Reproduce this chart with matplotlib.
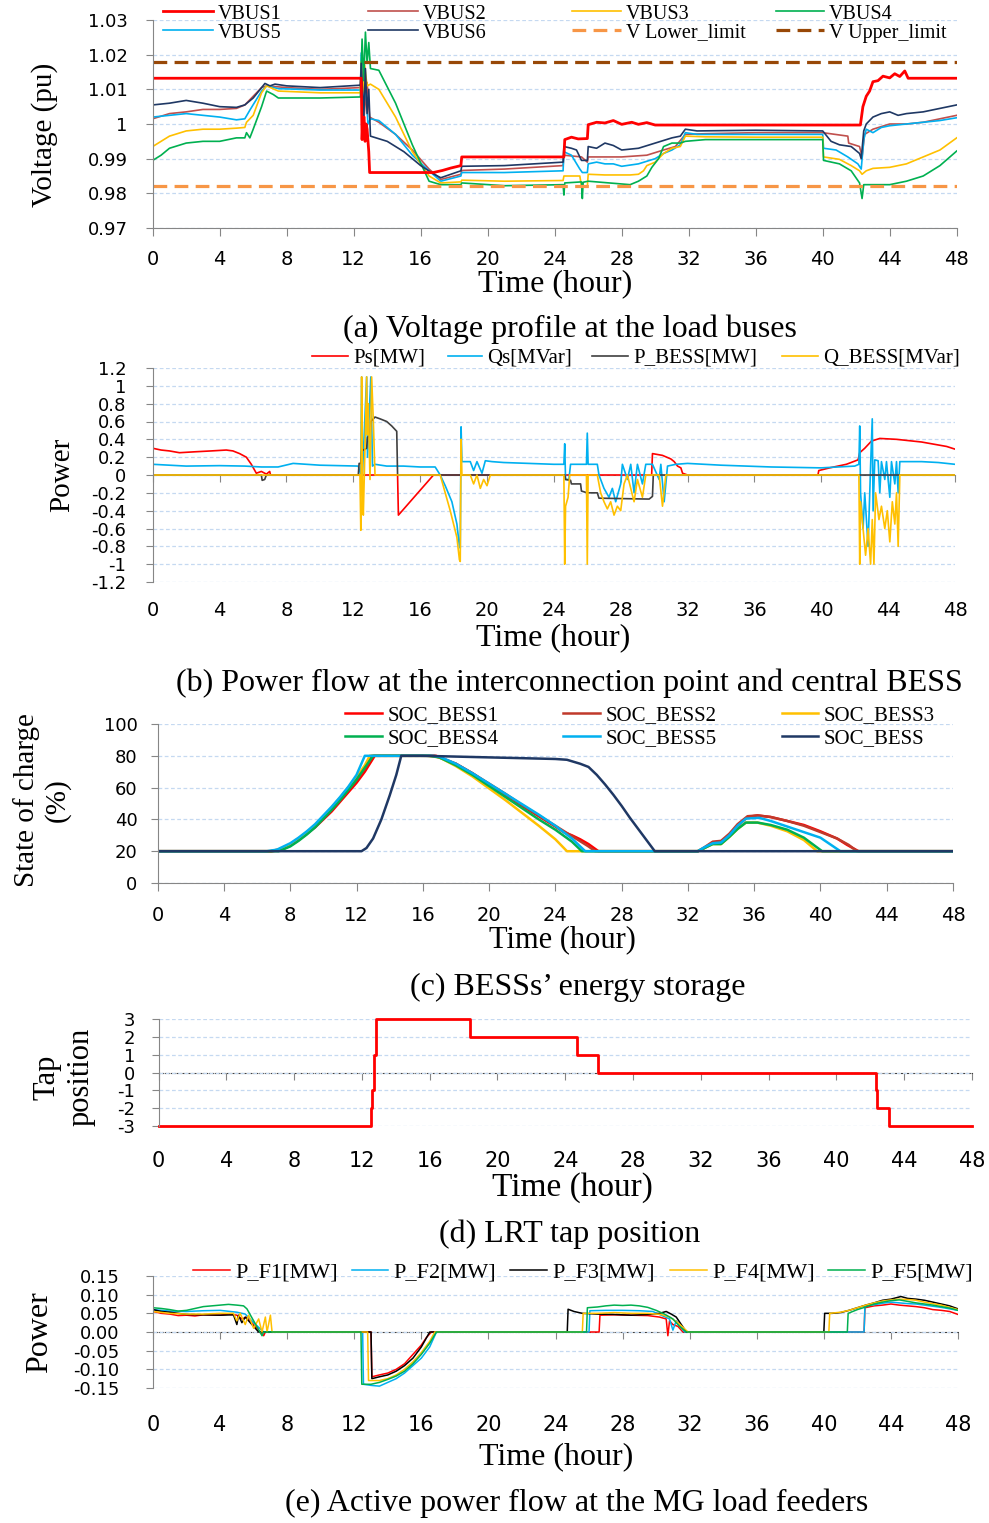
import numpy as np
import matplotlib
matplotlib.use("Agg")
import matplotlib.pyplot as plt
from matplotlib.ticker import FuncFormatter

# ---------------- data: (hour, value) pairs ----------------
# (a) voltage profile at the load buses [pu]
VBUS1 = [(0, 1.0132), (12.45, 1.0132), (12.5, 0.9955), (12.55, 1.0015), (12.62, 1.002), (12.68, 0.995),
         (12.74, 1.0), (12.8, 0.9985), (12.9, 0.992), (12.95, 0.986), (16.75, 0.986), (17.3, 0.9866),
         (17.8, 0.9873), (18.4, 0.988), (18.45, 0.9905), (24.55, 0.9905), (24.6, 0.9955), (25.0, 0.9962),
         (25.4, 0.9957), (25.95, 0.9958), (26.0, 0.9998), (26.5, 1.0005), (27.0, 1.0003), (27.5, 1.001),
         (28.0, 0.9999), (28.6, 1.0005), (29.0, 0.9999), (29.5, 1.0004), (30.0, 0.9997), (42.25, 0.9997),
         (42.4, 1.005), (42.6, 1.008), (42.8, 1.0095), (43.0, 1.0122), (43.3, 1.0125), (43.6, 1.0138),
         (44.0, 1.0133), (44.3, 1.0145), (44.6, 1.0137), (44.9, 1.0153), (45.1, 1.0132), (48, 1.0132)]
VBUS2 = [(0, 1.0015), (1, 1.003), (2, 1.0035), (3, 1.0042), (4, 1.0042), (5, 1.0045), (5.5, 1.0055),
         (6.5, 1.0105), (6.8, 1.011), (8, 1.0105), (10, 1.01), (12.4, 1.0105), (12.45, 1.0165), (12.6, 1.001),
         (12.8, 1.012), (12.95, 1.002), (13.5, 1.0005), (14.5, 0.997), (15.5, 0.9925), (16.5, 0.987),
         (17.2, 0.984), (18.4, 0.9855), (18.45, 0.9866), (21, 0.987), (24.5, 0.988), (24.55, 0.991),
         (25.6, 0.9905), (25.95, 0.989), (26.0, 0.9905), (28, 0.9905), (29.5, 0.991), (30.5, 0.9925),
         (31.2, 0.9935), (31.8, 0.997), (33, 0.9972), (36, 0.9975), (40, 0.9975), (41.5, 0.9965),
         (41.55, 0.9945), (42.2, 0.9935), (42.35, 0.9905), (42.5, 0.997), (43, 0.9985), (44, 1.0),
         (45, 1.0), (46, 1.0005), (47, 1.0015), (48, 1.0025)]
VBUS3 = [(0, 0.9935), (0.5, 0.995), (1, 0.9965), (2, 0.998), (3, 0.9985), (4, 0.9985), (5, 0.9988),
         (5.5, 0.999), (5.6, 1.0005), (6, 1.0025), (6.5, 1.009), (6.8, 1.011), (7.5, 1.0095), (10, 1.009),
         (12.4, 1.009), (12.45, 1.018), (12.55, 1.009), (12.65, 1.017), (12.8, 1.011), (13.0, 1.0115),
         (13.5, 1.01), (14.5, 1.002), (15.5, 0.992), (16.5, 0.985), (17.2, 0.983), (18.4, 0.9833),
         (18.45, 0.9838), (21, 0.9835), (24.5, 0.9837), (24.55, 0.985), (25.5, 0.985), (25.6, 0.982),
         (25.95, 0.982), (26.0, 0.9855), (27, 0.9853), (28.5, 0.9853), (29, 0.9855), (29.3, 0.9865),
         (29.5, 0.988), (30, 0.989), (30.5, 0.9915), (31, 0.993), (31.5, 0.9935), (31.8, 0.9965),
         (33, 0.9963), (36, 0.9962), (40, 0.9962), (40.05, 0.9905), (41, 0.9898), (41.7, 0.988),
         (42.2, 0.9865), (42.35, 0.9855), (42.6, 0.9865), (43, 0.9872), (44, 0.9875), (45, 0.9885),
         (46, 0.9905), (47, 0.9925), (48, 0.996)]
VBUS4 = [(0, 0.9895), (0.5, 0.991), (1, 0.993), (2, 0.9945), (3, 0.995), (4, 0.995), (5, 0.996),
         (5.5, 0.996), (5.6, 0.9975), (5.8, 0.996), (6, 0.9985), (6.5, 1.005), (6.8, 1.0095), (7.2, 1.0085),
         (7.5, 1.0075), (10, 1.0075), (12.4, 1.0078), (12.5, 1.0245), (12.6, 1.0125), (12.7, 1.0265),
         (12.8, 1.0175), (12.9, 1.0235), (13.0, 1.016), (13.5, 1.0155), (14.5, 1.006), (15.5, 0.994),
         (16.5, 0.9835), (17.2, 0.9825), (18.4, 0.9825), (18.45, 0.983), (21, 0.9822), (24.5, 0.9825),
         (24.55, 0.9795), (24.6, 0.983), (25.6, 0.9833), (25.65, 0.9785), (25.7, 0.9832), (26, 0.9835),
         (28.5, 0.9825), (29, 0.9835), (29.5, 0.985), (29.8, 0.9875), (30.2, 0.99), (30.5, 0.9935),
         (31, 0.9945), (31.5, 0.9945), (31.8, 0.995), (33, 0.9955), (36, 0.9955), (40, 0.9955),
         (40.05, 0.9895), (41, 0.9885), (41.7, 0.9865), (42.2, 0.983), (42.35, 0.9785), (42.45, 0.9825),
         (43, 0.9825), (44, 0.9825), (45, 0.9835), (46, 0.985), (47, 0.988), (48, 0.9922)]
VBUS5 = [(0, 1.002), (1, 1.0025), (2, 1.003), (3, 1.0025), (4, 1.002), (5, 1.0012), (5.5, 1.0015),
         (5.8, 1.004), (6.5, 1.0095), (6.8, 1.011), (7.5, 1.0102), (10, 1.0098), (12.4, 1.0098),
         (12.45, 1.0205), (12.55, 1.0), (12.7, 1.013), (12.85, 1.0), (13.0, 1.0015), (13.5, 1.001),
         (14.5, 0.997), (15.5, 0.991), (16.5, 0.9865), (17.2, 0.9835), (18.4, 0.985), (18.45, 0.986),
         (21, 0.986), (24.5, 0.9865), (24.55, 0.992), (25.0, 0.991), (25.5, 0.987), (25.65, 0.986),
         (25.95, 0.986), (26.0, 0.9885), (26.5, 0.989), (27, 0.9885), (27.5, 0.9885), (28, 0.9878),
         (29, 0.9885), (30, 0.99), (30.5, 0.9915), (31, 0.9925), (31.5, 0.994), (31.8, 0.9975),
         (32.5, 0.997), (36, 0.997), (40, 0.997), (40.05, 0.993), (40.8, 0.9925), (41.5, 0.9905),
         (42.1, 0.9885), (42.3, 0.987), (42.45, 0.9955), (42.6, 0.9985), (43, 0.9975), (43.5, 0.999),
         (44, 0.9995), (45, 1.0), (46, 1.0005), (47, 1.001), (48, 1.0018)]
VBUS6 = [(0, 1.0055), (1, 1.006), (2, 1.0068), (3, 1.006), (4, 1.005), (5, 1.0048), (5.5, 1.0055),
         (6.0, 1.0075), (6.5, 1.0105), (6.7, 1.0117), (7.0, 1.011), (7.3, 1.0115), (8, 1.011), (10, 1.0105),
         (12.4, 1.0112), (12.45, 1.0175), (12.6, 1.002), (12.7, 1.016), (12.8, 1.003), (12.9, 1.01),
         (13.0, 0.9965), (14, 0.995), (15, 0.992), (16, 0.988), (16.8, 0.9855), (17.2, 0.9845),
         (18.4, 0.9865), (18.45, 0.9878), (21, 0.988), (24.5, 0.989), (24.55, 0.9935), (25.0, 0.993),
         (25.3, 0.9925), (25.6, 0.9895), (25.95, 0.9895), (26.0, 0.9935), (26.5, 0.993), (27, 0.9945),
         (27.5, 0.9938), (28, 0.9925), (29, 0.993), (30, 0.9945), (31, 0.996), (31.5, 0.9965),
         (31.8, 0.9985), (32.5, 0.998), (36, 0.9982), (40, 0.998), (40.5, 0.995), (41, 0.994),
         (41.7, 0.9935), (42.2, 0.9915), (42.3, 0.99), (42.45, 0.998), (42.6, 1.0), (43, 1.002),
         (43.5, 1.003), (44, 1.0035), (44.5, 1.0025), (45, 1.003), (46, 1.0035), (47, 1.0045), (48, 1.0055)]
V_LOWER = 0.982
V_UPPER = 1.018

# (b) power flow at interconnection point and central BESS
PS = [(0, 0.3), (0.5, 0.28), (1, 0.27), (1.6, 0.25), (2.5, 0.26), (3.5, 0.27), (4.4, 0.28), (4.8, 0.27),
      (5.2, 0.24), (5.6, 0.2), (5.9, 0.12), (6.2, 0.02), (6.5, 0.04), (6.8, 0.01), (7.0, 0.04), (7.05, 0.0),
      (14.65, 0.0), (14.7, -0.45), (16.8, 0.0), (29.85, 0.0), (29.9, 0.24), (30.5, 0.22), (31.0, 0.18),
      (31.2, 0.15), (31.4, 0.1), (31.6, 0.08), (31.7, 0.02), (32, 0.0), (39.8, 0.0), (39.85, 0.05),
      (40.5, 0.08), (41.5, 0.12), (42.2, 0.17), (42.3, 0.25), (42.6, 0.3), (43, 0.38), (43.5, 0.41),
      (44.5, 0.4), (46, 0.37), (47.5, 0.32), (48, 0.29)]
QS = [(0, 0.12), (1, 0.11), (2, 0.1), (4, 0.105), (5.5, 0.1), (6.5, 0.09), (7.5, 0.09), (8.4, 0.13),
      (10, 0.11), (12.3, 0.1), (12.45, 0.0), (12.5, 1.1), (12.55, 0.0), (12.8, 1.1), (12.85, 0.2),
      (13.05, 1.1), (13.15, 0.1), (13.3, 0.12), (14, 0.1), (15, 0.1), (16, 0.09), (16.9, 0.09),
      (17.2, 0.0), (17.5, -0.12), (17.9, -0.3), (18.2, -0.55), (18.35, -0.8), (18.4, -0.82), (18.45, 0.54),
      (18.5, 0.15), (19.0, 0.15), (19.2, 0.05), (19.4, 0.15), (19.7, 0.02), (19.9, 0.16), (20.3, 0.15),
      (21, 0.14), (24, 0.12), (24.6, 0.12), (24.65, 0.35), (24.7, -0.05), (24.9, -0.05), (25.0, 0.12),
      (25.95, 0.12), (26.0, 0.47), (26.05, 0.12), (26.6, 0.12), (26.7, 0.0), (27.0, -0.15), (27.3, -0.25),
      (27.5, -0.15), (27.7, -0.3), (28.0, -0.1), (28.1, 0.12), (28.4, -0.05), (28.6, 0.12), (28.8, -0.2),
      (29.0, 0.12), (29.3, -0.1), (29.5, 0.12), (29.9, 0.12), (30.3, -0.05), (30.4, 0.12), (30.6, -0.3),
      (30.8, 0.1), (31.3, 0.12), (32, 0.13), (34, 0.11), (37, 0.09), (40, 0.08), (42, 0.1), (42.25, 0.12),
      (42.3, 0.55), (42.35, -0.2), (42.5, -0.6), (42.6, -0.2), (42.8, -0.8), (42.95, 0.1), (43.05, 0.63),
      (43.1, -0.4), (43.2, 0.17), (43.4, 0.16), (43.5, -0.2), (43.6, 0.15), (43.8, -0.05), (43.9, 0.15),
      (44.1, -0.25), (44.2, 0.15), (44.4, -0.1), (44.5, 0.15), (44.6, -0.2), (44.7, 0.15), (46, 0.15),
      (47, 0.14), (48, 0.12)]
P_BESS = [(0, 0.0), (6.5, 0.0), (6.55, -0.06), (6.7, -0.05), (6.8, 0.0), (12.3, 0.0), (12.35, 0.13),
          (12.45, 0.13), (12.5, 0.27), (12.8, 0.3), (12.85, 0.42), (13.0, 0.45), (13.05, 0.6), (13.3, 0.65),
          (13.6, 0.63), (14.0, 0.6), (14.3, 0.55), (14.6, 0.49), (14.65, 0.0), (24.65, 0.0), (24.7, -0.05),
          (25.0, -0.06), (25.05, -0.1), (25.6, -0.1), (25.65, -0.18), (26.0, -0.2), (26.6, -0.2),
          (26.7, -0.26), (29.7, -0.27), (29.9, -0.24), (29.95, 0.0), (48, 0.0)]
Q_BESS = [(0, 0.0), (12.4, 0.0), (12.45, -0.62), (12.5, 1.1), (12.55, -0.1), (12.6, -0.45), (12.7, 0.3),
          (12.8, 1.1), (12.85, 0.45), (12.9, 0.8), (13.0, -0.05), (13.1, 1.1), (13.2, 0.6), (13.3, 0.0),
          (17.2, 0.0), (17.5, -0.2), (17.8, -0.4), (18.0, -0.55), (18.2, -0.7), (18.35, -0.95),
          (18.4, -0.97), (18.45, 0.4), (18.5, 0.0), (19.0, 0.0), (19.2, -0.1), (19.4, 0.0), (19.6, -0.15),
          (19.8, -0.05), (20.0, -0.12), (20.2, 0.0), (24.6, 0.0), (24.65, -1.0), (24.7, -0.35),
          (24.85, -0.25), (24.95, 0.0), (25.95, 0.0), (26.0, -1.0), (26.05, 0.0), (26.6, 0.0),
          (26.8, -0.2), (27.0, -0.3), (27.2, -0.38), (27.4, -0.3), (27.6, -0.45), (27.8, -0.35),
          (28.0, -0.4), (28.2, -0.1), (28.4, 0.0), (28.6, -0.15), (28.8, -0.3), (29.0, -0.05),
          (29.3, -0.25), (29.5, 0.0), (30.3, 0.0), (30.5, -0.35), (30.7, 0.0), (42.25, 0.0), (42.3, -1.0),
          (42.35, -0.3), (42.5, -0.6), (42.65, -0.9), (42.8, -0.6), (42.95, -1.0), (43.05, -0.5),
          (43.15, -1.0), (43.25, -0.2), (43.45, -0.5), (43.6, -0.35), (43.8, -0.6), (43.95, -0.4),
          (44.1, -0.75), (44.25, -0.3), (44.4, -0.55), (44.5, -0.2), (44.6, -0.8), (44.7, 0.0), (48, 0.0)]

# (c) state of charge [%]
SOC1 = [(0, 20), (6.9, 20), (7.5, 21), (8, 23.5), (8.5, 27), (9, 31), (9.5, 35), (10, 40), (10.5, 45),
        (11, 51), (11.5, 57), (12, 63), (12.5, 70), (13.1, 80), (16.8, 80), (18, 75), (19, 69), (20, 62),
        (21, 55.5), (22, 48.5), (23, 42), (24, 35.5), (24.5, 32), (25, 30), (25.5, 27.5), (26, 24.5),
        (26.6, 20), (32.6, 20), (33, 22), (33.5, 25.5), (34, 26), (34.5, 30), (35, 36), (35.6, 41.5),
        (36.2, 42.5), (37, 41.5), (38, 39), (39, 36.5), (40, 32.5), (41, 28), (41.6, 24), (42.3, 20), (48, 20)]
SOC2 = [(0, 20), (6.8, 20), (7.5, 21.5), (8, 24), (8.5, 27.5), (9, 31.5), (9.5, 36), (10, 41), (10.5, 46.5),
        (11, 52.5), (11.5, 58.5), (12, 65), (12.5, 72), (12.9, 80), (16.7, 80), (18, 75), (19, 69),
        (20, 62.5), (21, 56), (22, 49), (23, 42.5), (24, 36), (25, 29.5), (26, 23), (26.4, 20), (32.6, 20),
        (33, 22.5), (33.5, 26), (34, 26.5), (34.5, 31), (35, 37), (35.6, 42), (36.2, 42.5), (37, 41.5),
        (38, 39), (39, 36), (40, 32), (41, 28), (41.7, 24), (42.2, 20), (48, 20)]
SOC3 = [(0, 20), (6.8, 20), (7.5, 21.5), (8, 24.5), (8.5, 28), (9, 32), (9.5, 36.5), (10, 42), (10.5, 47.5),
        (11, 53.5), (11.5, 60), (12, 66.5), (12.5, 74), (12.8, 80), (16.3, 80), (17, 79), (18, 73.5),
        (19, 67), (20, 59.5), (21, 52), (22, 44), (23, 36), (24, 27.5), (24.7, 20), (32.6, 20), (33, 22),
        (33.5, 24.5), (34, 24.5), (34.5, 29), (35, 34), (35.5, 38), (36.2, 38), (37, 36), (38, 32.5),
        (39, 27), (39.8, 20), (48, 20)]
SOC4 = [(0, 20), (7.3, 20), (8, 23), (8.5, 26.5), (9, 30.5), (9.5, 35), (10, 40.5), (10.5, 46), (11, 52),
        (11.5, 58.5), (12, 65), (12.5, 72.5), (13, 80), (16.4, 80), (17, 79), (18, 74), (19, 68), (20, 61),
        (21, 54), (22, 47), (23, 40), (24, 33.5), (25, 26), (25.6, 20), (32.6, 20), (33, 22), (33.5, 24.5),
        (34, 24.5), (34.5, 29), (35, 34), (35.5, 38), (36.2, 38), (37, 36.5), (38, 33.5), (39, 28.5),
        (40.1, 20), (48, 20)]
SOC5 = [(0, 20), (6.6, 20), (7.2, 21), (8, 25), (8.5, 28.5), (9, 32.5), (9.5, 37), (10, 42.5), (10.5, 48),
        (11, 54), (11.5, 60.5), (12, 68), (12.25, 74), (12.5, 80), (16.6, 80), (17, 79.5), (18, 75),
        (19, 69), (20, 62.5), (21, 56), (22, 49.5), (23, 43), (24, 36), (25, 28), (25.8, 20), (32.6, 20),
        (33, 22.5), (33.5, 25), (34, 25.5), (34.5, 30), (35, 36), (35.5, 40.5), (36.3, 41), (37, 39),
        (38, 35.5), (39, 32), (40, 28.5), (41.2, 20), (48, 20)]
SOC_C = [(0, 20), (12.3, 20), (12.6, 22), (13, 28), (13.5, 40), (14, 55), (14.4, 68), (14.7, 80), (16, 80),
         (18, 79.5), (20, 79), (22, 78.5), (24, 78), (24.7, 77.5), (25.5, 75), (26, 73), (26.5, 68),
         (27, 62), (27.5, 55.5), (28, 48.5), (28.5, 41), (29, 34), (29.5, 27), (30, 20), (48, 20)]

# (d) LRT tap position (value holds until next time)
TAP_T = [0, 12.52, 12.62, 12.72, 12.82, 18.37, 24.71, 25.94, 42.34, 42.42, 43.09, 48]
TAP_V = [-3, -2, -1, 1, 3, 2, 1, 0, -1, -2, -3, -3]

# (e) active power at MG load feeders [MW]
PF1 = [(0, 0.055), (0.5, 0.05), (1, 0.048), (1.5, 0.044), (2, 0.045), (2.5, 0.043), (3, 0.046), (4, 0.045),
       (4.5, 0.048), (5, 0.045), (5.3, 0.035), (5.6, 0.04), (5.9, 0.025), (6.2, 0.01), (6.4, 0.0),
       (6.6, -0.01), (6.7, 0.0), (13.0, 0.0), (13.05, -0.12), (13.5, -0.115), (14, -0.11), (14.5, -0.1),
       (15, -0.085), (15.5, -0.06), (16, -0.035), (16.3, -0.015), (16.6, 0.0), (26.6, 0.0), (26.65, 0.045),
       (27.5, 0.046), (28.5, 0.045), (29.5, 0.044), (30.2, 0.04), (30.6, 0.035), (30.7, -0.01), (30.8, 0.03),
       (31.0, 0.02), (31.3, 0.015), (31.6, 0.0), (42.4, 0.0), (42.45, 0.065), (43, 0.07), (43.5, 0.072),
       (44, 0.075), (44.5, 0.072), (45, 0.07), (45.5, 0.068), (46, 0.065), (46.5, 0.06), (47, 0.058),
       (47.5, 0.055), (48, 0.047)]
PF2 = [(0, 0.06), (1, 0.056), (2, 0.055), (3, 0.057), (4, 0.058), (5, 0.053), (5.5, 0.048), (6, 0.025),
       (6.6, 0.0), (12.5, 0.0), (12.55, -0.14), (13, -0.143), (13.5, -0.145), (14, -0.135), (14.5, -0.125),
       (15, -0.11), (15.5, -0.09), (16, -0.07), (16.5, -0.04), (16.9, 0.0), (26.0, 0.0), (26.05, 0.057),
       (27, 0.058), (28, 0.058), (29, 0.057), (29.8, 0.055), (30.3, 0.045), (30.8, 0.035), (31.0, 0.005),
       (31.2, 0.03), (31.7, 0.0), (42.4, 0.0), (42.45, 0.07), (43, 0.073), (43.5, 0.077), (44, 0.08),
       (44.5, 0.078), (45, 0.076), (45.5, 0.075), (46, 0.072), (47, 0.066), (48, 0.058)]
PF3 = [(0, 0.06), (0.5, 0.055), (1, 0.053), (2, 0.047), (3, 0.046), (4, 0.045), (4.8, 0.046), (5.0, 0.02),
       (5.1, 0.045), (5.3, 0.025), (5.5, 0.04), (5.7, 0.03), (6.0, 0.015), (6.3, 0.0), (13.0, 0.0),
       (13.05, -0.125), (13.5, -0.12), (14, -0.115), (14.5, -0.105), (15, -0.09), (15.5, -0.07), (16, -0.04),
       (16.5, 0.0), (24.7, 0.0), (24.75, 0.061), (25.1, 0.055), (25.6, 0.05), (26.5, 0.048), (27.5, 0.047),
       (28.5, 0.045), (29.5, 0.047), (30.2, 0.05), (30.6, 0.055), (30.9, 0.048), (31.2, 0.04), (31.5, 0.02),
       (31.8, 0.0), (40.0, 0.0), (40.05, 0.05), (40.5, 0.05), (41, 0.052), (41.5, 0.058), (42, 0.065),
       (42.5, 0.072), (43, 0.078), (43.5, 0.085), (44, 0.088), (44.6, 0.095), (45, 0.09), (45.5, 0.088),
       (46, 0.085), (46.5, 0.08), (47, 0.075), (47.5, 0.07), (48, 0.062)]
PF4 = [(0, 0.055), (1, 0.05), (2, 0.048), (3, 0.048), (4, 0.05), (4.8, 0.05), (5.0, 0.03), (5.2, 0.05),
       (5.5, 0.02), (5.7, 0.045), (6.0, 0.01), (6.3, 0.035), (6.5, 0.0), (6.7, 0.04), (6.8, 0.0),
       (7.0, 0.045), (7.1, 0.0), (12.8, 0.0), (12.85, -0.13), (13.5, -0.13), (14, -0.125), (14.5, -0.115),
       (15, -0.1), (15.5, -0.08), (16, -0.055), (16.5, -0.025), (16.8, 0.0), (25.6, 0.0), (25.65, 0.05),
       (26.5, 0.05), (27.5, 0.052), (28.5, 0.05), (29.5, 0.05), (30.3, 0.047), (30.8, 0.04), (31.3, 0.025),
       (31.9, 0.0), (40.3, 0.0), (40.35, 0.05), (41, 0.053), (41.5, 0.058), (42, 0.065), (42.5, 0.072),
       (43, 0.078), (43.5, 0.083), (44, 0.086), (44.5, 0.088), (45, 0.087), (45.5, 0.085), (46, 0.08),
       (46.5, 0.076), (47, 0.072), (47.5, 0.066), (48, 0.06)]
PF5 = [(0, 0.065), (0.5, 0.063), (1, 0.06), (1.5, 0.056), (2, 0.058), (2.5, 0.063), (3, 0.068), (3.5, 0.07),
       (4, 0.072), (4.5, 0.074), (5, 0.072), (5.4, 0.07), (5.6, 0.062), (6, 0.03), (6.5, -0.01), (6.6, 0.0),
       (12.4, 0.0), (12.45, -0.14), (13, -0.14), (13.5, -0.135), (14, -0.127), (14.5, -0.118), (15, -0.105),
       (15.5, -0.085), (16, -0.06), (16.5, -0.03), (16.9, 0.0), (25.85, 0.0), (25.9, 0.065), (26.5, 0.067),
       (27, 0.07), (27.5, 0.072), (28, 0.071), (28.5, 0.072), (29, 0.07), (29.5, 0.066), (30, 0.058),
       (30.5, 0.048), (31, 0.035), (31.4, 0.015), (31.8, 0.0), (41.4, 0.0), (41.45, 0.05), (42, 0.06),
       (42.5, 0.067), (43, 0.075), (43.5, 0.08), (44, 0.084), (44.5, 0.086), (45, 0.082), (45.5, 0.078),
       (46, 0.075), (46.5, 0.072), (47, 0.068), (47.5, 0.064), (48, 0.058)]

HOURS = list(range(0, 49, 4))
V_TICKS = [0.97, 0.98, 0.99, 1.0, 1.01, 1.02, 1.03]
P_TICKS = [-1.2, -1.0, -0.8, -0.6, -0.4, -0.2, 0, 0.2, 0.4, 0.6, 0.8, 1.0, 1.2]
SOC_TICKS = [0, 20, 40, 60, 80, 100]
TAP_TICKS = [-3, -2, -1, 0, 1, 2, 3]
PF_TICKS = [-0.15, -0.10, -0.05, 0.0, 0.05, 0.10, 0.15]

# ---------------- layout helpers ----------------
W, H = 989, 1523
SERIF = "Liberation Serif"
GRID = "#c5d9f1"
SPINE = "#868686"
plt.rcParams["font.family"] = ["DejaVu Sans"]

fig = plt.figure(figsize=(W / 100, H / 100), dpi=100)


def make_axes(left, top, right, bottom):
    return fig.add_axes([left / W, 1 - bottom / H, (right - left) / W, (bottom - top) / H])


def gfmt(v, pos=None):
    v = 0 if abs(v) < 1e-9 else v
    return f"{round(v, 3):g}"


def fmt2(v, pos=None):
    v = 0 if abs(v) < 1e-9 else v
    return f"{v:.2f}"


def style(ax, ylim, yticks, fmt, ylen, ypad):
    ax.set_xlim(0, 48)
    ax.set_ylim(*ylim)
    ax.set_xticks(HOURS)
    ax.set_yticks(yticks)
    ax.yaxis.set_major_formatter(FuncFormatter(fmt))
    ax.spines[["top", "right"]].set_visible(False)
    ax.spines["left"].set_color(SPINE)
    ax.spines["bottom"].set_color(SPINE)
    ax.grid(axis="y", color=GRID, ls=(0, (3, 2)), lw=0.9)
    ax.set_axisbelow(True)
    ax.tick_params(axis="y", length=ylen, color=SPINE, pad=ypad, labelsize=13)


def zero_axis(ax, ls, color):
    # x axis line drawn through value 0 while labels stay at the bottom
    ax.spines["bottom"].set_visible(False)
    sec = ax.secondary_xaxis(0.4999)
    sec.set_xticks(HOURS)
    sec.tick_params(axis="x", direction="out", length=5, color=SPINE,
                    labelbottom=False, labeltop=False)
    sec.spines["bottom"].set_color(color)
    sec.spines["bottom"].set_linestyle(ls)


def entry(handle, label, x0, y, size, hpx):
    fs = size * 100 / 72
    fig.legend([handle], [label], loc="center left", bbox_to_anchor=(x0 / W, 1 - y / H),
               frameon=False, borderpad=0, borderaxespad=0, handlelength=hpx / fs,
               handletextpad=0.25, prop={"family": SERIF, "size": size})


def ftext(x, y, s, size=23, **kw):
    fig.text(x / W, 1 - y / H, s, ha="center", va="center", family=SERIF, fontsize=size, **kw)


def xy(pairs):
    a = np.array(pairs, dtype=float)
    return a[:, 0], a[:, 1]


# ---------------- (a) ----------------
ax = make_axes(152.7, 20, 956.7, 228)
style(ax, (0.97, 1.03), V_TICKS, gfmt, 5, 13)
ax.tick_params(axis="x", length=6, color=SPINE, pad=10, labelsize=14)
lines_a = {}
for name, data, col in [("VBUS2", VBUS2, "#c0504d"), ("VBUS5", VBUS5, "#00b0f0"),
                        ("VBUS3", VBUS3, "#ffc000"), ("VBUS4", VBUS4, "#00b050"),
                        ("VBUS6", VBUS6, "#1f3864")]:
    t, v = xy(data)
    lines_a[name], = ax.plot(t, v, color=col, lw=1.2)
lo, = ax.plot([0, 48], [V_LOWER, V_LOWER], color="#f79646", lw=2.3, ls=(0, (4.3, 2.3)))
up, = ax.plot([0, 48], [V_UPPER, V_UPPER], color="#984807", lw=2.3, ls=(0, (4.3, 2.3)))
t, v = xy(VBUS1)
lines_a["VBUS1"], = ax.plot(t, v, color="#ff0000", lw=2)

entry(lines_a["VBUS1"], "VBUS1", 163, 14, 14.5, 50)
entry(lines_a["VBUS2"], "VBUS2", 368, 14, 14.5, 50)
entry(lines_a["VBUS3"], "VBUS3", 572, 14, 14.5, 49)
entry(lines_a["VBUS4"], "VBUS4", 776, 14, 14.5, 48)
entry(lines_a["VBUS5"], "VBUS5", 163, 33, 14.5, 50)
entry(lines_a["VBUS6"], "VBUS6", 368, 33, 14.5, 50)
entry(lo, "V Lower_limit", 572, 33, 14.5, 49)
entry(up, "V Upper_limit", 776, 33, 14.5, 48)
ftext(45, 135, "Voltage (pu)", size=21, rotation=90)
ftext(555, 284, "Time (hour)")
ftext(570, 329, "(a) Voltage profile at the load buses")

# ---------------- (b) ----------------
ax = make_axes(152.7, 368, 955, 582)
style(ax, (-1.2, 1.2), P_TICKS, gfmt, 5, 14)
ax.tick_params(axis="x", length=0, pad=14, labelsize=14)
zero_axis(ax, "-", SPINE)
hb = []
for data, col in [(PS, "#ff0000"), (QS, "#00b0f0"), (P_BESS, "#404040"), (Q_BESS, "#ffc000")]:
    t, v = xy(data)
    hb.append(ax.plot(t, v, color=col, lw=1.2)[0])
entry(hb[0], "Ps[MW]", 312, 358, 15, 36)
entry(hb[1], "Qs[MVar]", 448, 358, 15, 34)
entry(hb[2], "P_BESS[MW]", 592, 358, 15, 36)
entry(hb[3], "Q_BESS[MVar]", 782, 358, 15, 36)
ftext(62, 475, "Power", size=21, rotation=90)
ftext(553, 638, "Time (hour)")
ftext(569, 683, "(b) Power flow at the interconnection point and central BESS")

# ---------------- (c) ----------------
ax = make_axes(157.7, 724, 953, 883)
style(ax, (0, 100), SOC_TICKS, gfmt, 5, 9.5)
ax.tick_params(axis="x", length=6, color=SPINE, pad=10.5, labelsize=14)
hc = []
for data, col in [(SOC1, "#ff0000"), (SOC2, "#c0392b"), (SOC3, "#ffc000"),
                  (SOC4, "#00b050"), (SOC5, "#00b0f0"), (SOC_C, "#1f3864")]:
    t, v = xy(data)
    hc.append(ax.plot(t, v, color=col, lw=1.8)[0])
entry(hc[0], "SOC_BESS1", 345, 715, 15, 37)
entry(hc[1], "SOC_BESS2", 563, 715, 15, 37)
entry(hc[2], "SOC_BESS3", 782, 715, 15, 36)
entry(hc[3], "SOC_BESS4", 345, 738, 15, 37)
entry(hc[4], "SOC_BESS5", 563, 738, 15, 37)
entry(hc[5], "SOC_BESS", 782, 738, 15, 36)
ftext(42, 800, "State of charge\n(%)", size=21, rotation=90, linespacing=1.15)
ftext(562, 940, "Time (hour)", size=22)
ftext(578, 987, "(c) BESSs\u2019 energy storage")

# ---------------- (d) ----------------
ax = make_axes(158.5, 1019, 972, 1126)
style(ax, (-3, 3), TAP_TICKS, gfmt, 5, 12)
ax.tick_params(axis="x", length=0, pad=18, labelsize=15)
zero_axis(ax, ":", "#404040")
ax.plot(TAP_T, TAP_V, color="#ff0000", lw=2, drawstyle="steps-post", clip_on=False)
ftext(64, 1077, "Tap\nposition", size=22, rotation=90, linespacing=1.2)
ftext(572, 1188, "Time (hour)", size=24)
ftext(570, 1234, "(d) LRT tap position")

# ---------------- (e) ----------------
ax = make_axes(153, 1276, 958, 1388)
style(ax, (-0.15, 0.15), PF_TICKS, fmt2, 5, 19)
ax.tick_params(axis="x", length=0, pad=19.5, labelsize=15)
zero_axis(ax, ":", "#404040")
he = []
for data, col in [(PF1, "#ff0000"), (PF2, "#00b0f0"), (PF3, "#000000"), (PF4, "#ffc000"), (PF5, "#00b050")]:
    t, v = xy(data)
    he.append(ax.plot(t, v, color=col, lw=1.1)[0])
entry(he[0], "P_F1[MW]", 193, 1272, 16, 37)
entry(he[1], "P_F2[MW]", 352, 1272, 16, 36)
entry(he[2], "P_F3[MW]", 510, 1272, 16, 37)
entry(he[3], "P_F4[MW]", 670, 1272, 16, 37)
entry(he[4], "P_F5[MW]", 828, 1272, 16, 37)
ftext(40, 1332, "Power", size=23, rotation=90)
ftext(556, 1457, "Time (hour)")
ftext(577, 1503, "(e) Active power flow at the MG load feeders")

fig.savefig("out.png", dpi=100)
